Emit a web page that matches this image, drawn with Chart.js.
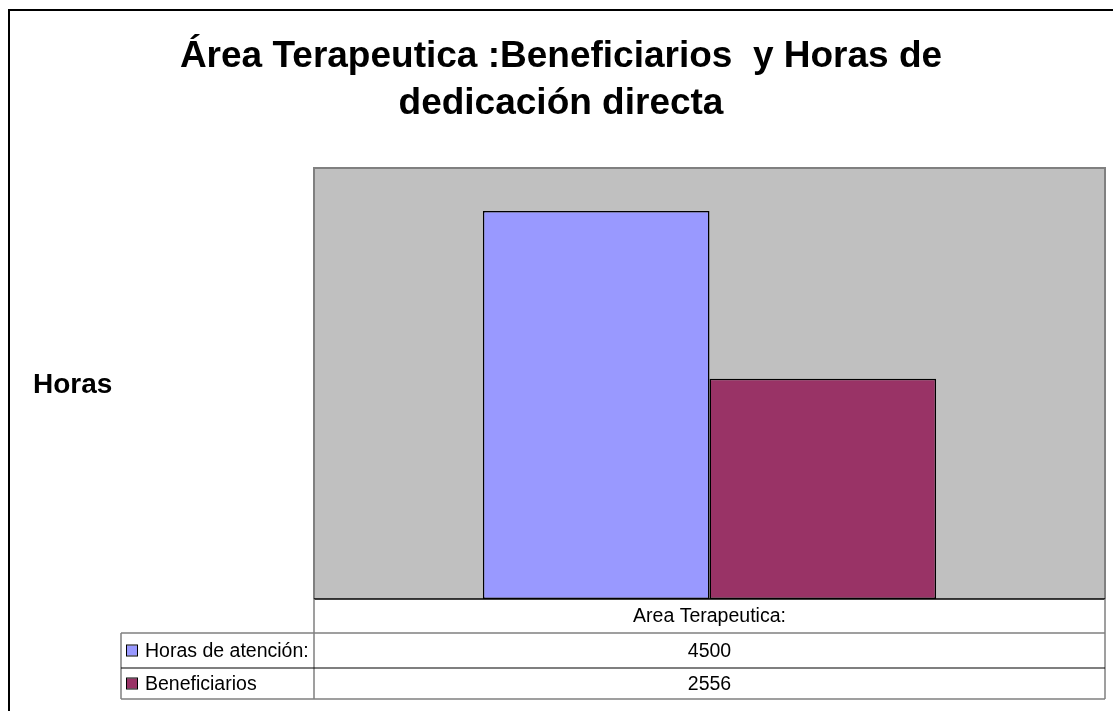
<!DOCTYPE html>
<html>
<head>
<meta charset="utf-8">
<title>Área Terapeutica</title>
<script src="https://cdn.jsdelivr.net/npm/chart.js@4.4.1/dist/chart.umd.min.js"></script>
<style>
  body { margin: 0; background: #fff; }
  canvas { display: block; }
</style>
</head>
<body>
<canvas id="chart" width="1113" height="711"></canvas>
<script>
const categories = ["Area Terapeutica:"];
const seriesNames = ["Horas de atención:", "Beneficiarios"];
const horasValues = [4500];
const beneficiariosValues = [2556];
const seriesColors = ["#9999FF", "#993366"];
const titleLines = ["Área Terapeutica :Beneficiarios  y Horas de", "dedicación directa"];
const yTitle = "Horas";

const FONT = "'Liberation Sans', Arial, sans-serif";

// gray plot area + frame round the whole chart
const backgroundPlugin = {
  id: "plotBg",
  beforeDraw(chart) {
    const ctx = chart.ctx;
    const a = chart.chartArea;
    ctx.save();
    ctx.strokeStyle = "#000";
    ctx.lineWidth = 2;
    ctx.strokeRect(9, 10, chart.width + 20, chart.height + 20);
    ctx.fillStyle = "#C0C0C0";
    ctx.fillRect(a.left, a.top, a.right - a.left, a.bottom - a.top);
    ctx.restore();
  },
  afterDatasetsDraw(chart) {
    const ctx = chart.ctx;
    const a = chart.chartArea;
    ctx.save();
    ctx.strokeStyle = "#808080";
    ctx.lineWidth = 2;
    ctx.beginPath();
    ctx.moveTo(a.left, a.bottom);
    ctx.lineTo(a.left, a.top);
    ctx.lineTo(a.right, a.top);
    ctx.lineTo(a.right, a.bottom);
    ctx.stroke();
    ctx.strokeStyle = "#000";
    ctx.lineWidth = 1.5;
    ctx.beginPath();
    ctx.moveTo(a.left, a.bottom);
    ctx.lineTo(a.right, a.bottom);
    ctx.stroke();
    ctx.restore();
  }
};

// axis title (horizontal) and the data table under the plot
const tablePlugin = {
  id: "dataTable",
  afterDraw(chart) {
    const ctx = chart.ctx;
    const a = chart.chartArea;
    const rowH = [34, 35, 31];
    const labelLeft = 121;
    ctx.save();

    ctx.fillStyle = "#000";
    ctx.font = "bold 28px " + FONT;
    ctx.textAlign = "left";
    ctx.textBaseline = "alphabetic";
    ctx.fillText(yTitle, 33, 393);

    const y0 = a.bottom;
    const y1 = y0 + rowH[0];
    const y2 = y1 + rowH[1];
    const y3 = y2 + rowH[2];

    ctx.lineWidth = 1.5;
    ctx.strokeStyle = "#808080";
    ctx.beginPath();
    ctx.moveTo(a.left, y0); ctx.lineTo(a.left, y3);
    ctx.moveTo(a.right, y0); ctx.lineTo(a.right, y3);
    ctx.moveTo(labelLeft, y1); ctx.lineTo(labelLeft, y3);
    ctx.moveTo(labelLeft, y1); ctx.lineTo(a.right, y1);
    ctx.moveTo(labelLeft, y3); ctx.lineTo(a.right, y3);
    ctx.stroke();
    ctx.strokeStyle = "#000";
    ctx.lineWidth = 1.2;
    ctx.beginPath();
    ctx.moveTo(labelLeft, y2); ctx.lineTo(a.right, y2);
    ctx.stroke();

    ctx.font = "19.5px " + FONT;
    ctx.textBaseline = "middle";
    ctx.textAlign = "center";
    const xs = chart.scales.x;
    chart.data.labels.forEach((lab, i) => {
      const cx = xs.getPixelForValue(i);
      ctx.fillText(lab, cx, (y0 + y1) / 2 + 1);
      chart.data.datasets.forEach((ds, j) => {
        const top = j === 0 ? y1 : y2;
        const bot = j === 0 ? y2 : y3;
        ctx.fillText(String(ds.data[i]), cx, (top + bot) / 2 + 1);
      });
    });

    ctx.textAlign = "left";
    chart.data.datasets.forEach((ds, j) => {
      const top = j === 0 ? y1 : y2;
      const bot = j === 0 ? y2 : y3;
      const mid = (top + bot) / 2;
      ctx.fillStyle = ds.backgroundColor;
      ctx.fillRect(127, mid - 5, 10, 10);
      ctx.strokeStyle = "#000";
      ctx.lineWidth = 1;
      ctx.strokeRect(126.5, mid - 5.5, 11, 11);
      ctx.fillStyle = "#000";
      ctx.fillText(ds.label, 145, mid + 1);
    });
    ctx.restore();
  }
};

new Chart("chart", {
  type: "bar",
  data: {
    labels: categories,
    datasets: [
      {
        label: seriesNames[0],
        data: horasValues,
        backgroundColor: seriesColors[0],
        borderColor: "#000",
        borderWidth: 1.5,
        borderSkipped: false
      },
      {
        label: seriesNames[1],
        data: beneficiariosValues,
        backgroundColor: seriesColors[1],
        borderColor: "#000",
        borderWidth: 1.5,
        borderSkipped: false
      }
    ]
  },
  options: {
    responsive: false,
    animation: false,
    devicePixelRatio: 1,
    layout: { padding: { top: 0, left: 9, right: 0, bottom: 112 } },
    categoryPercentage: 0.573,
    barPercentage: 1.0,
    plugins: {
      legend: { display: false },
      tooltip: { enabled: false },
      title: {
        display: true,
        text: titleLines,
        color: "#000",
        font: { family: FONT, size: 37, weight: "bold", lineHeight: 1.27 },
        padding: { top: 33, bottom: 41 }
      }
    },
    scales: {
      x: { display: false },
      y: {
        min: 0,
        max: 5000,
        ticks: { display: false },
        grid: { display: false },
        border: { display: false },
        afterFit(scale) { scale.width = 305; }
      },
      yRight: {
        type: "linear",
        position: "right",
        ticks: { display: false },
        grid: { display: false },
        border: { display: false },
        afterFit(scale) { scale.width = 8; }
      }
    }
  },
  plugins: [backgroundPlugin, tablePlugin]
});
</script>
</body>
</html>
